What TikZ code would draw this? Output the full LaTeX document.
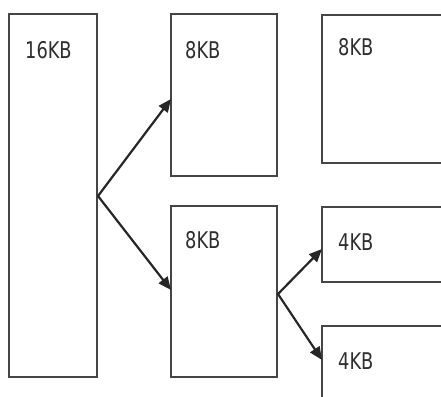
\documentclass[tikz,border=0pt]{standalone}
\usepackage{fontspec}
\usepackage{graphicx}
\setmainfont{DejaVu Sans Condensed}
\usetikzlibrary{arrows.meta}
\definecolor{boxgray}{HTML}{454545}
\definecolor{txtgray}{HTML}{2E2E2E}
\tikzset{
  blk/.style={draw=boxgray, line width=2.8pt},
  lbl/.style={anchor=north west, inner sep=0pt, text=txtgray, font=\fontsize{23}{23}\selectfont},
  arr/.style={draw=black!85, line width=2.2pt, -{Triangle[length=13pt,width=11pt]}}
}
\newcommand{\kb}[1]{\scalebox{0.86}[1]{#1}}
\begin{document}
\begin{tikzpicture}[x=1pt,y=-1pt]
\useasboundingbox (0,0) rectangle (441,396);
% boxes
\draw[blk] (9,14) rectangle (97,377);
\draw[blk] (171,14) rectangle (277,176);
\draw[blk] (322,15) rectangle (460,163);
\draw[blk] (171,206) rectangle (277,377);
\draw[blk] (322,207) rectangle (460,282);
\draw[blk] (322,326) rectangle (460,420);
% labels
\node[lbl] (t16) at (25,41) {\kb{16KB}};
\node[lbl] (t8a) at (185,41) {\kb{8KB}};
\node[lbl] (t8b) at (338,38) {\kb{8KB}};
\node[lbl] (t8c) at (185,231) {\kb{8KB}};
\node[lbl] (t4a) at (338,234) {\kb{4KB}};
\node[lbl] (t4b) at (338,353) {\kb{4KB}};
% connector points
\coordinate (s1) at (98,196);
\coordinate (e1) at (171,99);
\coordinate (e2) at (171,290);
\coordinate (s2) at (278,294);
\coordinate (e3) at (322,249);
\coordinate (e4) at (322,360);
\draw[arr] (s1) -- (e1);
\draw[arr] (s1) -- (e2);
\draw[arr] (s2) -- (e3);
\draw[arr] (s2) -- (e4);
\end{tikzpicture}
\end{document}
